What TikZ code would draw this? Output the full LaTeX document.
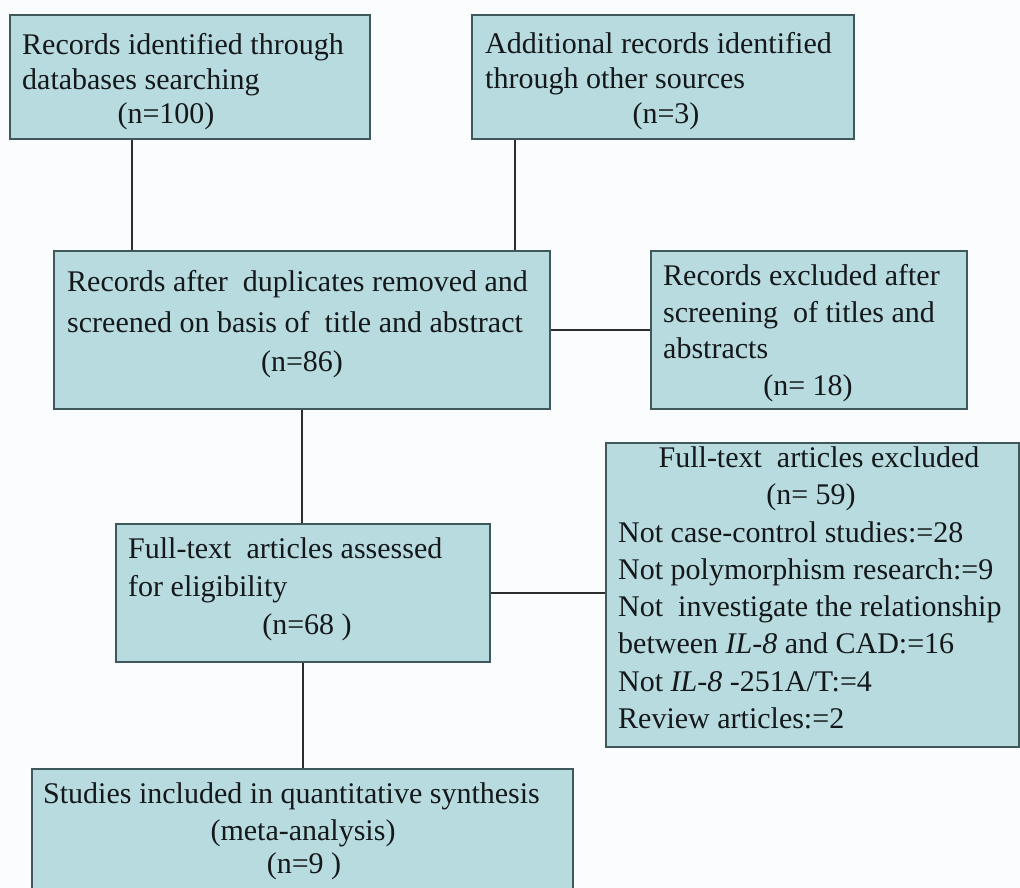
\documentclass[tikz,border=0pt]{standalone}
\usepackage{fontspec}
\setmainfont{Liberation Serif}
\usetikzlibrary{calc}
\definecolor{boxfill}{RGB}{184,219,223}
\definecolor{boxdraw}{RGB}{62,88,92}
\definecolor{linecol}{RGB}{45,45,45}
\definecolor{bgcol}{RGB}{251,252,254}
\definecolor{txtcol}{RGB}{20,24,26}
\tikzset{
  flowbox/.style={draw=boxdraw, fill=boxfill, line width=1.8pt, rectangle, inner sep=0pt, anchor=north west},
  conn/.style={draw=linecol, line width=1.4pt},
  txt/.style={anchor=base west, inner sep=0pt, font=\fontsize{30}{36}\selectfont, text=txtcol},
  ctxt/.style={anchor=base, inner sep=0pt, font=\fontsize{30}{36}\selectfont, text=txtcol},
}
\begin{document}
\begin{tikzpicture}[x=1pt,y=-1pt]
\fill[bgcol] (0,0) rectangle (1020,888);
\useasboundingbox (0,0) rectangle (1020,888);

% boxes
\node[flowbox, minimum width=360pt, minimum height=124pt] (b1) at (9,14) {};
\node[flowbox, minimum width=382pt, minimum height=124pt] (b2) at (471,14) {};
\node[flowbox, minimum width=496pt, minimum height=158pt] (b3) at (53,250) {};
\node[flowbox, minimum width=316pt, minimum height=158pt] (b4) at (650,250) {};
\node[flowbox, minimum width=374pt, minimum height=138pt] (b5) at (115,523) {};
\node[flowbox, minimum width=413pt, minimum height=304pt] (b6) at (605,442) {};
\node[flowbox, minimum width=541pt, minimum height=135pt] (b7) at (31,768) {};

% connectors
\coordinate (c1) at ([xshift=123pt]b1.south west);
\coordinate (c2) at ([xshift=44pt]b2.south west);
\draw[conn] (c1) -- (c1 |- b3.north);
\draw[conn] (c2) -- (c2 |- b3.north);
\draw[conn] (b3.east) -- (b3.east -| b4.west);
\draw[conn] (b3.south) -- (b3.south |- b5.north);
\draw[conn] (b5.east) -- (b5.east -| b6.west);
\draw[conn] (b5.south) -- (b5.south |- b7.north);

% box 1
\node[txt] (t1a) at (22,55) {Records identified through};
\node[txt] (t1b) at (22,90) {databases searching};
\node[ctxt] (t1c) at (166,124) {(n=100)};
% box 2
\node[txt] (t2a) at (485,54) {Additional records identified};
\node[txt] (t2b) at (485,89) {through other sources};
\node[ctxt] (t2c) at (666,124) {(n=3)};
% box 3
\node[txt] (t3a) at (67,291) {Records after~ duplicates removed and};
\node[txt] (t3b) at (67,332) {screened on basis of~ title and abstract};
\node[ctxt] (t3c) at (302,371) {(n=86)};
% box 4
\node[txt] (t4a) at (663,285) {Records excluded after};
\node[txt] (t4b) at (663,322) {screening~ of titles and};
\node[txt] (t4c) at (663,358) {abstracts};
\node[ctxt] (t4d) at (808,395) {(n= 18)};
% box 5
\node[txt] (t5a) at (128,558) {Full-text~ articles assessed};
\node[txt] (t5b) at (128,596) {for eligibility};
\node[ctxt] (t5c) at (307,634) {(n=68 )};
% box 6
\node[ctxt] (t6a) at (819,467) {Full-text~ articles excluded};
\node[ctxt] (t6b) at (811,504) {(n= 59)};
\node[txt] (t6c) at (618,542) {Not case-control studies:=28};
\node[txt] (t6d) at (618,579) {Not polymorphism research:=9};
\node[txt] (t6e) at (618,616) {Not~ investigate the relationship};
\node[txt] (t6f) at (618,653) {between \textit{IL-8} and CAD:=16};
\node[txt] (t6g) at (618,691) {Not \textit{IL-8} -251A/T:=4};
\node[txt] (t6h) at (618,728) {Review articles:=2};
% box 7
\node[txt] (t7a) at (43,803) {Studies included in quantitative synthesis};
\node[ctxt] (t7b) at (303,840) {(meta-analysis)};
\node[ctxt] (t7c) at (304,873) {(n=9 )};
\end{tikzpicture}
\end{document}
